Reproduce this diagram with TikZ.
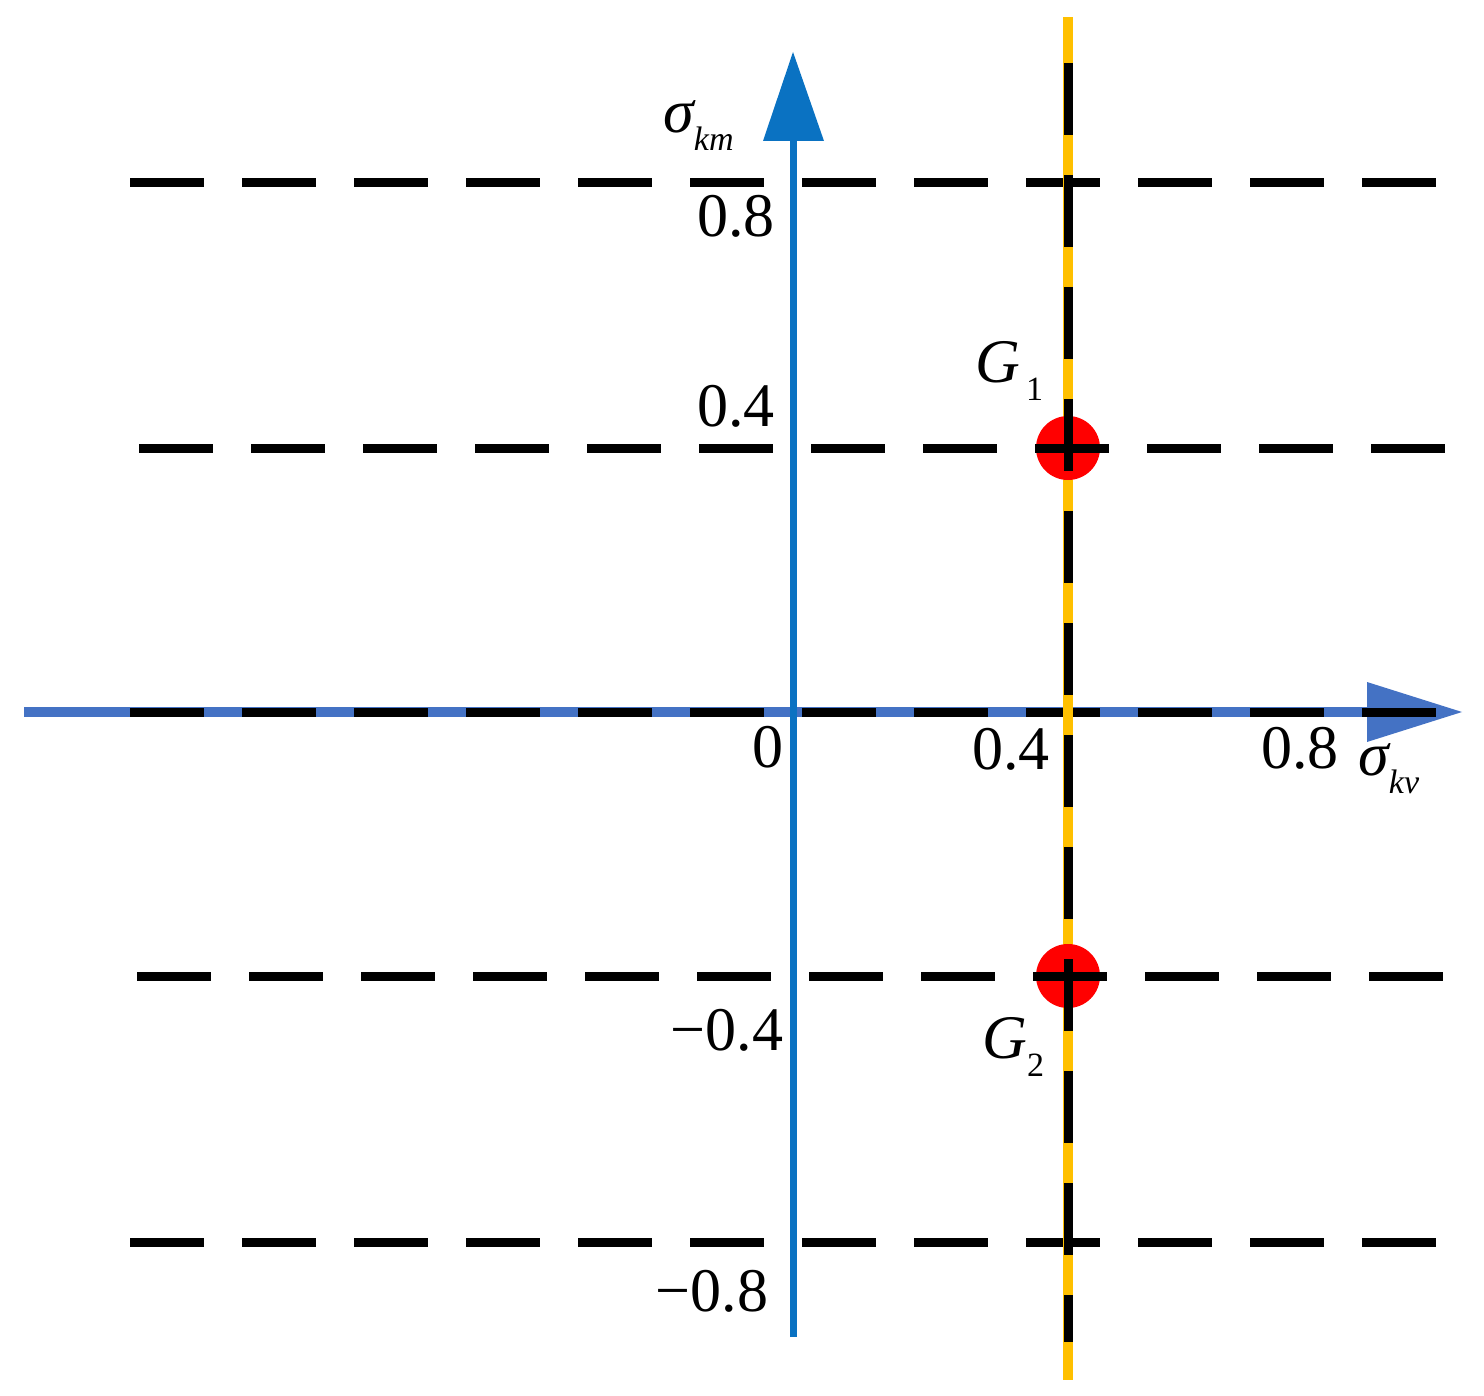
\documentclass[tikz,border=0pt]{standalone}
\usepackage{fontspec}
\setmainfont{Liberation Serif}
\definecolor{axblue}{HTML}{4472C4}
\definecolor{axvblue}{HTML}{0A72C2}
\definecolor{ylw}{HTML}{FFC000}
\tikzset{
  hdash/.style={draw=black, line width=4.5pt, dash pattern=on 37pt off 19pt},
  vdash/.style={draw=black, line width=4.5pt, dash pattern=on 36pt off 20pt},
  lbl/.style={inner sep=0pt, font=\fontsize{31}{31}\selectfont},
  sym/.style={inner sep=0pt, anchor=base west, font=\fontsize{31}{31}\selectfont},
}
\newcommand{\subtxt}[1]{\raisebox{-9pt}{\fontsize{17}{17}\selectfont #1}}
\begin{document}
\begin{tikzpicture}[x=0.5pt, y=-0.5pt]
\useasboundingbox (0,0) rectangle (1484,1396);
% axes
\coordinate (xs) at (24,712);
\coordinate (xe) at (1367,712);
\coordinate (ys) at (793,1337);
\coordinate (ye) at (793,140);
\draw[axblue, line width=5pt] (xs) -- (xe);
\fill[axblue] (1367,682) -- (1462,712) -- (1367,742) -- cycle;
\draw[axvblue, line width=3.5pt] (ys) -- (ye);
\fill[axvblue] (763,141) -- (793,52) -- (824,141) -- cycle;
% horizontal dashed lines
\draw[hdash] (130,183) -- (1437,183);
\draw[hdash] (130,712) -- (1437,712);
\draw[hdash] (130,1242) -- (1437,1242);
% yellow vertical
\draw[ylw, line width=5pt] (1068,17) -- (1068,1380);
% points
\fill[red] (1068,448) circle[radius=16pt];
\fill[red] (1068,976) circle[radius=16pt];
\draw[hdash] (139,448) -- (1447,448);
\draw[hdash] (137,976) -- (1443,976);
% vertical dashed
\draw[vdash] (1068,63) -- (1068,1342);
% labels
\node[lbl] (y08) at (736,216) {0.8};
\node[lbl] (y04) at (736,406) {0.4};
\node[lbl] (o) at (768,747) {0};
\node[lbl] (x04) at (1011,749) {0.4};
\node[lbl] (x08) at (1300,748) {0.8};
\node[lbl] (ym04) at (727,1030) {−0.4};
\node[lbl] (ym08) at (712,1291) {−0.8};
\node[sym] (skm) at (663,133) {\itshape σ\subtxt{km}};
\node[sym] (skv) at (1358,775) {\itshape σ\subtxt{kv}};
\node[sym] (g1) at (975,383) {\itshape G\hspace{3pt}\subtxt{\upshape 1}};
\node[sym] (g2) at (982,1058) {\itshape G\subtxt{\upshape 2}};
\end{tikzpicture}
\end{document}
